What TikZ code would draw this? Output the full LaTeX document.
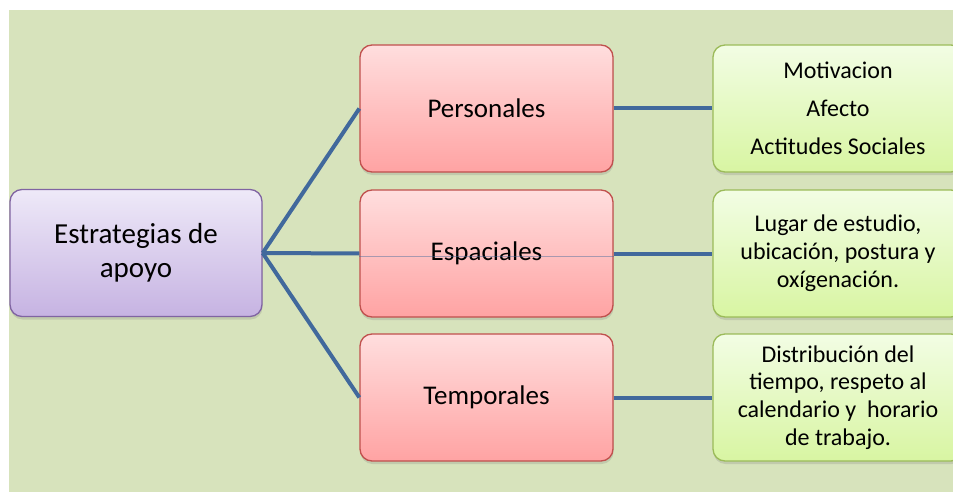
\documentclass[tikz,border=0pt]{standalone}
\usepackage{fontspec}
\setmainfont{Carlito}
\usetikzlibrary{shadows}
\definecolor{bgc}{HTML}{D7E3BC}
\definecolor{purtop}{HTML}{EEE9F8}
\definecolor{purbot}{HTML}{C6B3E2}
\definecolor{purdraw}{HTML}{8064A2}
\definecolor{redtop}{HTML}{FFDEDE}
\definecolor{redbot}{HTML}{FFA3A3}
\definecolor{reddraw}{HTML}{C0504D}
\definecolor{grntop}{HTML}{F2FDE4}
\definecolor{grnbot}{HTML}{D8F5A2}
\definecolor{grndraw}{HTML}{9BBB59}
\definecolor{linkc}{HTML}{41699C}
\tikzset{
  boxbase/.style={rectangle, rounded corners=12pt, line width=1.3pt, align=center,
    minimum width=252pt, minimum height=127pt, inner sep=2pt,
    drop shadow={opacity=0.25, shadow xshift=0.5pt, shadow yshift=-3pt}},
  rootbox/.style={boxbase, draw=purdraw, top color=purtop, bottom color=purbot,
    font=\fontsize{29}{34}\selectfont},
  midbox/.style={boxbase, draw=reddraw, top color=redtop, bottom color=redbot,
    minimum width=253pt, font=\fontsize{27}{32}\selectfont},
  leafbox/.style={boxbase, draw=grndraw, top color=grntop, bottom color=grnbot,
    minimum width=250pt, font=\fontsize{24}{27.8}\selectfont},
  link/.style={draw=linkc, line width=4pt}
}
\begin{document}
\begin{tikzpicture}[x=1pt, y=-1pt]
\useasboundingbox (0,0) rectangle (953,492);
\fill[white] (0,0) rectangle (953,492);
\fill[bgc] (9,10) rectangle (953,492);

% nodes
\node[rootbox] (root) at (136,253) {Estrategias de\\apoyo};
\node[midbox] (pers) at (486.5,108.5) {Personales};
\node[midbox] (esp) at (486.5,253.5) {Espaciales};
\node[midbox] (temp) at (486.5,397.5) {Temporales};
\node[leafbox] (l1) at (838,108.5) {Motivacion\\[10.2pt]Afecto\\[10.2pt]Actitudes Sociales};
\node[leafbox] (l2) at (838,253.5) {Lugar de estudio,\\ubicación, postura y\\oxígenación.};
\node[leafbox] (l3) at (838,397.5) {Distribución del\\tiempo, respeto al\\calendario y\ \ horario\\de trabajo.};

% connectors
\draw[link] (root.east) -- (pers.west);
\draw[link] (root.east) -- (esp.west);
\draw[link] (root.east) -- (temp.west);
\draw[link] (pers.east) -- (l1.west);
\draw[link] (esp.east) -- (l2.west);
\draw[link] (temp.east) -- (l3.west);

% thin line across Espaciales as in the reference
\draw[draw=linkc, line width=0.8pt, opacity=0.45] ([yshift=-2.5pt]esp.west) -- ([yshift=-2.5pt]esp.east);
\end{tikzpicture}
\end{document}
